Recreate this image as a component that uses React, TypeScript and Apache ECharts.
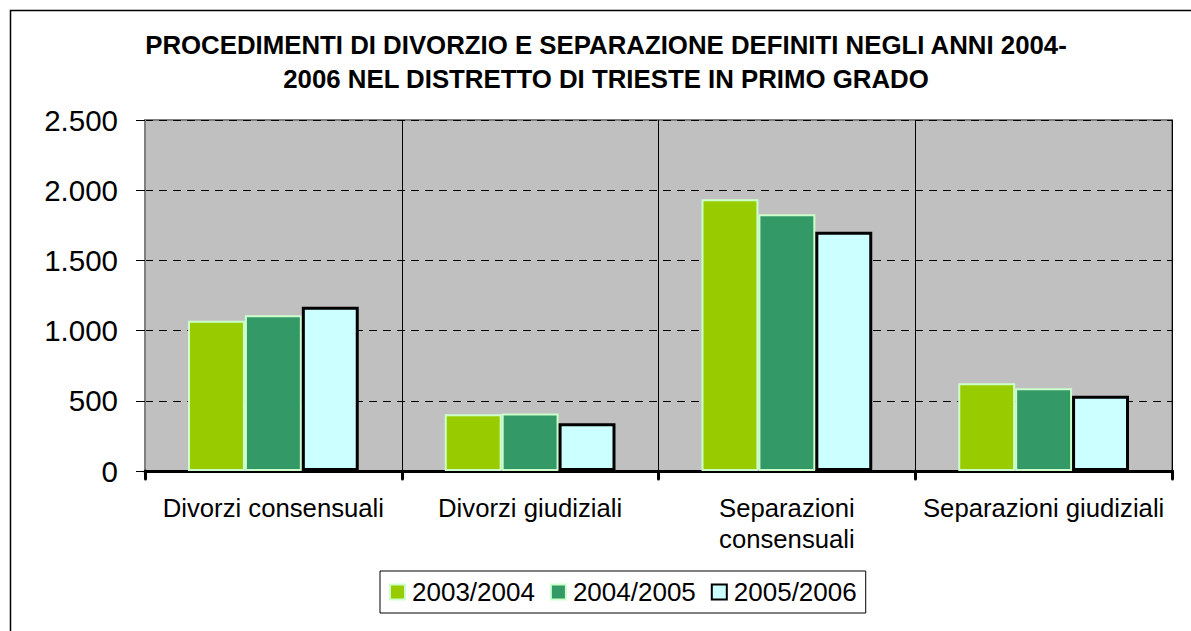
import React, { useEffect, useRef } from "react";
import * as echarts from "echarts";

const titleLines = [
  "PROCEDIMENTI DI DIVORZIO E SEPARAZIONE DEFINITI NEGLI ANNI 2004-",
  "2006 NEL DISTRETTO DI TRIESTE IN PRIMO GRADO",
];
const categories = [
  "Divorzi consensuali",
  "Divorzi giudiziali",
  "Separazioni consensuali",
  "Separazioni giudiziali",
];
const seriesNames = ["2003/2004", "2004/2005", "2005/2006"];
const values2003_2004 = [1070, 405, 1935, 625];
const values2004_2005 = [1110, 410, 1828, 590];
const values2005_2006 = [1170, 340, 1704, 536];
const yTicks = [0, 500, 1000, 1500, 2000, 2500];

const fmt = (v: number) => String(v).replace(/\B(?=(\d{3})+(?!\d))/g, ".");

export default function App() {
  const ref = useRef<HTMLDivElement>(null);
  useEffect(() => {
    document.body.style.margin = "0";
    const chart = echarts.init(ref.current!, null, { renderer: "svg" });
    const font = "'Liberation Sans', Arial, sans-serif";
    const barBase = (color: string, border: string, bw: number) => ({
      type: "bar" as const,
      barGap: "0%",
      barCategoryGap: "33.5%",
      itemStyle: { color, borderColor: border, borderWidth: bw },
    });
    chart.setOption({
      animation: false,
      backgroundColor: "#ffffff",
      textStyle: { fontFamily: font },
      graphic: [
        {
          type: "rect",
          shape: { x: 10.5, y: 10.5, width: 1400, height: 800 },
          style: { fill: "none", stroke: "#000", lineWidth: 1.5 },
          silent: true,
          z: -10,
        },
        {
          type: "text",
          x: 606,
          y: 28,
          style: {
            text: titleLines.join("\n"),
            font: `bold 25.8px ${font}`,
            fill: "#000",
            textAlign: "center",
            lineHeight: 34,
          },
        },
      ],
      grid: {
        left: 145,
        right: 19,
        top: 120,
        bottom: 160,
        show: true,
        backgroundColor: "#c0c0c0",
        borderColor: "#808080",
        borderWidth: 2,
      },
      legend: {
        data: seriesNames,
        left: 380,
        top: 571,
        orient: "horizontal",
        borderColor: "#000",
        borderWidth: 1,
        padding: [8, 9, 8, 9],
        itemWidth: 15,
        itemHeight: 15,
        itemGap: 15,
        icon: "rect",
        textStyle: { fontSize: 26, color: "#000", fontFamily: font, padding: [0, 0, 0, 2] },
      },
      xAxis: {
        type: "category",
        data: categories,
        axisLine: { show: true, lineStyle: { color: "#000", width: 3 } },
        axisTick: { show: true, interval: 0, length: 8, lineStyle: { color: "#000", width: 3, cap: "round" } },
        axisLabel: {
          interval: 0,
          fontSize: 25.7,
          color: "#000",
          margin: 21,
          lineHeight: 31,
          fontFamily: font,
          formatter: (v: string) =>
            v === "Separazioni consensuali" ? "Separazioni\nconsensuali" : v,
        },
        splitLine: { show: true, interval: 0, lineStyle: { color: "#000", width: 1 } },
      },
      yAxis: {
        type: "value",
        min: yTicks[0],
        max: yTicks[yTicks.length - 1],
        interval: 500,
        axisLine: { show: true, lineStyle: { color: "#808080", width: 2 } },
        axisTick: { show: true, length: 9, lineStyle: { color: "#000", width: 1 } },
        axisLabel: {
          fontSize: 29.5,
          color: "#000",
          margin: 27,
          fontFamily: font,
          formatter: (v: number) => fmt(v),
        },
        splitLine: { show: true, lineStyle: { color: "#000", width: 1, type: [8, 6] } },
      },
      series: [
        { ...barBase("#99cc00", "#ccffcc", 2), name: seriesNames[0], data: values2003_2004 },
        { ...barBase("#339966", "#ccffcc", 2), name: seriesNames[1], data: values2004_2005 },
        { ...barBase("#ccffff", "#000000", 3), name: seriesNames[2], data: values2005_2006 },
      ],
    });
    return () => chart.dispose();
  }, []);
  return <div ref={ref} style={{ width: 1191, height: 631 }} />;
}
